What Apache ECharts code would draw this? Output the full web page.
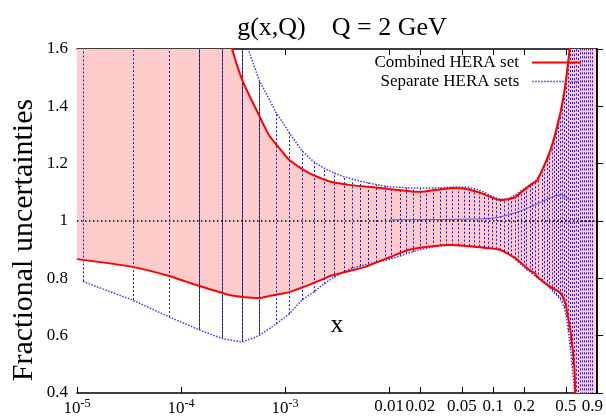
<!DOCTYPE html>
<html><head><meta charset="utf-8">
<script src="https://cdn.jsdelivr.net/npm/echarts@6/dist/echarts.min.js"></script>
<style>html,body{margin:0;padding:0;background:#fff}#c{width:606px;height:418px}</style>
</head><body><div id="c"></div>
<script>
// ---- tick labels ----
const xTickValues = [1e-5, 1e-4, 1e-3, 0.01, 0.02, 0.05, 0.1, 0.2, 0.5, 0.9];
const xTickLabels = ['10^-5', '10^-4', '10^-3', '0.01', '0.02', '0.05', '0.1', '0.2', '0.5', '0.9'];

// ---- Combined HERA set (red band) ----
const redX  = [1e-5, 3.4e-5, 7.7e-5, 1.5e-4, 2.5e-4, 3.1e-4, 3.9e-4, 5.6e-4, 7.0e-4, 9.1e-4,
               1.1e-3, 1.7e-3, 2.45e-3, 2.8e-3, 3.5e-3, 4.1e-3, 5.9e-3, 8.4e-3, 0.0098, 0.0152,
               0.0178, 0.0222, 0.0253, 0.0368, 0.0394, 0.0524, 0.0713, 0.0832, 0.118, 0.161,
               0.172, 0.229, 0.25, 0.267, 0.356, 0.443, 0.494, 0.516, 0.552, 0.603,
               0.617, 0.65, 0.97];
const redUp = [3.0, 2.7, 2.35, 2.0, 1.74, 1.6, 1.49, 1.37, 1.30, 1.248,
               1.213, 1.167, 1.143, 1.136, 1.130, 1.126, 1.120, 1.115, 1.112, 1.105,
               1.102, 1.103, 1.106, 1.113, 1.115, 1.113, 1.101, 1.092, 1.073, 1.082,
               1.090, 1.126, 1.135, 1.143, 1.248, 1.377, 1.47, 1.527, 1.62, 1.8,
               1.85, 2.0, 2.5];
const redLo = [0.867, 0.840, 0.808, 0.773, 0.749, 0.740, 0.735, 0.731, 0.738, 0.746,
               0.752, 0.777, 0.801, 0.810, 0.819, 0.825, 0.840, 0.862, 0.871, 0.899,
               0.904, 0.909, 0.911, 0.916, 0.916, 0.914, 0.909, 0.906, 0.899, 0.872,
               0.864, 0.826, 0.819, 0.805, 0.770, 0.749, 0.714, 0.68, 0.620, 0.491,
               0.40, 0.2, 0.0];

// ---- Separate HERA sets (blue dotted error bars) ----
const sepX = [1.14e-5, 3.43e-5, 7.74e-5, 1.50e-4, 2.49e-4, 3.86e-4, 5.62e-4, 8.17e-4, 1.09e-3, 1.45e-3,
              1.88e-3, 2.35e-3, 2.93e-3, 3.65e-3, 4.36e-3, 5.31e-3, 6.33e-3, 7.55e-3, 9.20e-3, 0.0105,
              0.0128, 0.0146, 0.0170, 0.0199, 0.0227, 0.0265, 0.0308, 0.0352, 0.0402, 0.0459,
              0.0524, 0.0585, 0.0653, 0.0728, 0.0813, 0.0887, 0.0970, 0.106, 0.116, 0.126,
              0.138, 0.147, 0.161, 0.172, 0.184, 0.196, 0.209, 0.224, 0.239, 0.255,
              0.273, 0.292, 0.311, 0.333, 0.348, 0.372, 0.388, 0.406, 0.424, 0.443,
              0.462, 0.484, 0.506, 0.528, 0.552, 0.577, 0.603, 0.630, 0.658, 0.687,
              0.719, 0.751, 0.785, 0.820, 0.857, 0.895];
const sepLow = [0.789, 0.724, 0.665, 0.620, 0.590, 0.578, 0.600, 0.640, 0.675, 0.724,
                0.752, 0.780, 0.803, 0.822, 0.835, 0.843, 0.850, 0.857, 0.863, 0.868,
                0.878, 0.886, 0.893, 0.900, 0.905, 0.910, 0.914, 0.915, 0.915, 0.915,
                0.914, 0.913, 0.912, 0.911, 0.909, 0.907, 0.905, 0.903, 0.899, 0.894,
                0.887, 0.880, 0.869, 0.859, 0.849, 0.840, 0.831, 0.823, 0.815, 0.807,
                0.799, 0.791, 0.783, 0.774, 0.767, 0.757, 0.749, 0.742, 0.735, 0.727,
                0.715, 0.697, 0.665, 0.617, 0.557, 0.487, 0.417, 0.35, 0.25, 0.2,
                0.2, 0.2, 0.2, 0.2, 0.2, 0.2];
const sepHigh = [3.0, 2.7, 2.35, 2.05, 1.82, 1.66, 1.492, 1.38, 1.31, 1.245,
                 1.207, 1.185, 1.168, 1.155, 1.147, 1.139, 1.133, 1.127, 1.121, 1.119,
                 1.117, 1.116, 1.115, 1.115, 1.115, 1.115, 1.116, 1.117, 1.118, 1.119,
                 1.119, 1.117, 1.113, 1.108, 1.101, 1.094, 1.087, 1.081, 1.077, 1.076,
                 1.078, 1.082, 1.089, 1.096, 1.104, 1.111, 1.118, 1.125, 1.132, 1.140,
                 1.155, 1.170, 1.190, 1.215, 1.232, 1.260, 1.285, 1.310, 1.340, 1.375,
                 1.415, 1.46, 1.51, 1.56, 1.62, 1.70, 1.80, 1.9, 2.0, 2.2,
                 2.2, 2.2, 2.2, 2.2, 2.2, 2.2];
// black dotted bars
const blkX    = [1.50e-4, 2.49e-4, 3.86e-4, 5.62e-4];
const blkLow  = [0.620, 0.590, 0.578, 0.600];
const blkHigh = [2.05, 1.82, 1.66, 1.492];
// central value of separate sets
const sepMidX = [0.01, 0.05, 0.1, 0.161, 0.25, 0.35, 0.44, 0.5, 0.56];
const sepMidY = [1.004, 1.006, 1.01, 1.028, 1.055, 1.08, 1.091, 1.083, 1.07];

const L = v => Math.log10(v);
const FONT = 'Liberation Serif';
const pair = (xs, ys) => xs.map((x, i) => [L(x), ys[i]]);

function xLabel(v) {
  let idx = -1;
  for (let i = 0; i < xTickValues.length; i++) if (Math.abs(L(xTickValues[i]) - v) < 1e-6) idx = i;
  if (idx < 0) return '';
  const s = xTickLabels[idx];
  if (s.indexOf('^') >= 0) { const p = s.split('^'); return '{b|' + p[0] + '}{s|' + p[1] + '}'; }
  return s;
}

const chart = echarts.init(document.getElementById('c'), null, {renderer: 'canvas'});
const axisLine = {show: true, lineStyle: {color: '#000', width: 1.5}};
const tickStyle = {color: '#000', width: 1};
const legendBase = {right: 24, align: 'right', orient: 'vertical', padding: 0,
     itemWidth: 49, itemHeight: 14, selectedMode: false, itemStyle: {opacity: 0},
     textStyle: {fontFamily: FONT, fontSize: 17, color: '#000', padding: [0, 8, 0, 0]}};
const option = {
  animation: false,
  backgroundColor: '#fff',
  title: {text: 'g(x,Q)    Q = 2 GeV', left: 337, top: 10, textAlign: 'center',
          textStyle: {fontFamily: FONT, fontSize: 26, fontWeight: 'normal', color: '#000'}},
  grid: {left: 77, right: 5, top: 49, bottom: 25},
  graphic: [{type: 'text', x: 24, y: 240, rotation: Math.PI / 2, silent: true,
             style: {text: 'Fractional uncertainties', fontFamily: FONT, fontSize: 30, fill: '#000',
                     textAlign: 'center', textVerticalAlign: 'middle'}}],
  legend: [
    Object.assign({}, legendBase, {data: ['Combined HERA set'], top: 54, lineStyle: {width: 2}}),
    Object.assign({}, legendBase, {data: ['Separate HERA sets'], top: 73, lineStyle: {width: 1.5}})
  ],
  xAxis: [
    {type: 'value', min: -5, max: 0, position: 'bottom', axisLine: axisLine,
     axisTick: {show: true, inside: true, length: 6, customValues: xTickValues.map(L), lineStyle: tickStyle},
     axisLabel: {show: true, customValues: xTickValues.map(L), formatter: xLabel, margin: 5,
                 fontFamily: FONT, fontSize: 17, color: '#000',
                 rich: {b: {fontFamily: FONT, fontSize: 17, lineHeight: 17, color: '#000', padding: [4, 0, 0, 0]},
                        s: {fontFamily: FONT, fontSize: 12, lineHeight: 12, color: '#000', verticalAlign: 'top'}}},
     splitLine: {show: false},
     name: 'x', nameLocation: 'middle', nameGap: -81,
     nameTextStyle: {fontFamily: FONT, fontSize: 26, color: '#000'}},
    {type: 'value', min: -5, max: 0, position: 'top', axisLine: axisLine,
     axisTick: {show: true, inside: true, length: 6, customValues: xTickValues.map(L), lineStyle: tickStyle},
     axisLabel: {show: false}, splitLine: {show: false}}
  ],
  yAxis: [
    {type: 'value', min: 0.4, max: 1.6, interval: 0.2, position: 'left', axisLine: axisLine,
     axisTick: {show: true, inside: true, length: 6, lineStyle: tickStyle},
     axisLabel: {margin: 9, fontFamily: FONT, fontSize: 17, color: '#000',
                 formatter: v => String(Math.round(v * 10) / 10)},
     splitLine: {show: false}},
    {type: 'value', min: 0.4, max: 1.6, interval: 0.2, position: 'right', axisLine: axisLine,
     axisTick: {show: true, inside: true, length: 6, lineStyle: tickStyle},
     axisLabel: {show: false}, splitLine: {show: false}}
  ],
  series: [
    {type: 'custom', name: 'band', clip: true, silent: true, z: 1, data: [[-5, 1]], encode: {x: 0, y: 1},
     renderItem: function (params, api) {
       const pts = [];
       for (let i = 0; i < redX.length; i++) pts.push(api.coord([L(redX[i]), redUp[i]]));
       for (let i = redX.length - 1; i >= 0; i--) pts.push(api.coord([L(redX[i]), redLo[i]]));
       return {type: 'polygon', shape: {points: pts}, style: {fill: '#ffcccc', stroke: null}};
     }},
    {type: 'custom', name: 'sepbars', clip: true, silent: true, z: 2,
     data: sepX.map((x, i) => [L(x), sepLow[i], sepHigh[i]]), encode: {x: 0, y: [1, 2]},
     renderItem: function (params, api) {
       const p1 = api.coord([api.value(0), api.value(1)]);
       const p2 = api.coord([api.value(0), api.value(2)]);
       const x = Math.round(p1[0]) + 0.5;
       return {type: 'line', shape: {x1: x, y1: p1[1], x2: x, y2: p2[1]},
               style: {stroke: '#1414ff', lineWidth: 1, lineDash: [2, 2]}};
     }},
    {type: 'custom', name: 'blkbars', clip: true, silent: true, z: 3,
     data: blkX.map((x, i) => [L(x), blkLow[i], blkHigh[i]]), encode: {x: 0, y: [1, 2]},
     renderItem: function (params, api) {
       const p1 = api.coord([api.value(0), api.value(1)]);
       const p2 = api.coord([api.value(0), api.value(2)]);
       const x = Math.round(p1[0]) + 0.5;
       return {type: 'line', shape: {x1: x, y1: p1[1], x2: x, y2: p2[1]},
               style: {stroke: '#000', lineWidth: 1, lineDash: [1.5, 2.5], lineDashOffset: 2}};
     }},
    {type: 'line', name: 'one', data: [[-5, 1], [0, 1]], symbol: 'none', silent: true, z: 4,
     lineStyle: {color: '#000', width: 1.5, type: [1.5, 2.5]}},
    {type: 'line', name: 'sepmid', data: pair(sepMidX, sepMidY), symbol: 'none', silent: true, z: 4, smooth: 0.3,
     lineStyle: {color: '#3030ff', width: 0.8}},
    {type: 'line', name: 'Separate HERA sets', data: pair(sepX, sepLow), symbol: 'none', silent: true, z: 5,
     itemStyle: {color: '#3a3aff'}, lineStyle: {color: '#3a3aff', width: 1.5, type: [1.5, 1.5]}},
    {type: 'line', name: 'Separate HERA sets', data: pair(sepX, sepHigh), symbol: 'none', silent: true, z: 5,
     itemStyle: {color: '#3a3aff'}, lineStyle: {color: '#3a3aff', width: 1.5, type: [1.5, 1.5]}},
    {type: 'line', name: 'Combined HERA set', data: pair(redX, redUp), symbol: 'none', silent: true, z: 6, smooth: 0.25,
     itemStyle: {color: '#ff0000'}, lineStyle: {color: '#ff0000', width: 2}},
    {type: 'line', name: 'Combined HERA set', data: pair(redX, redLo), symbol: 'none', silent: true, z: 6, smooth: 0.25,
     itemStyle: {color: '#ff0000'}, lineStyle: {color: '#ff0000', width: 2}}
  ]
};
chart.setOption(option);
</script>
</body></html>
